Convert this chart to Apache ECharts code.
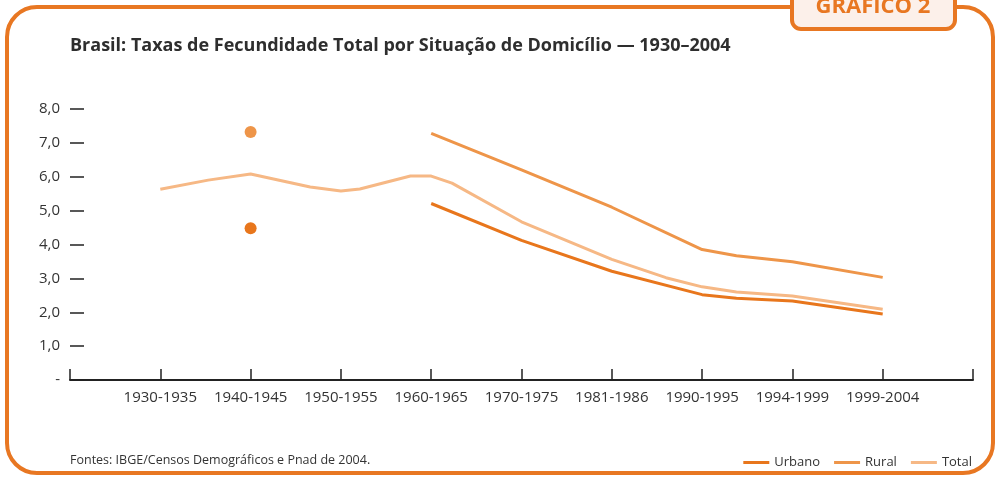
<!DOCTYPE html>
<html>
<head>
<meta charset="utf-8">
<script src="https://cdn.jsdelivr.net/npm/echarts@6/dist/echarts.min.js"></script>
<style>
  html, body { margin: 0; padding: 0; background: #fff; }
  #chart { width: 997px; height: 477px; }
</style>
</head>
<body>
<div id="chart"></div>
<script>
// rótulos das categorias (posições 1..9 no eixo x)
const categories = ['1930-1935', '1940-1945', '1950-1955', '1960-1965', '1970-1975',
  '1981-1986', '1990-1995', '1994-1999', '1999-2004']

// [posição x, taxa]
const urbano = [[4, 5.21], [5, 4.12], [6, 3.21], [7, 2.52], [7.38, 2.41], [8, 2.33], [9, 1.95]]
const rural = [[4, 7.28], [5, 6.2], [6, 5.1], [7, 3.85], [7.38, 3.67], [8, 3.49], [9, 3.03]]
const total = [[1, 5.63], [1.53, 5.9], [2, 6.08], [2.66, 5.7], [3, 5.58], [3.21, 5.64],
  [3.77, 6.02], [4, 6.02], [4.23, 5.81], [5, 4.67], [6, 3.56], [6.6, 3.02], [7, 2.75],
  [7.38, 2.6], [8, 2.48], [9, 2.09]]

// pontos isolados de 1940-1945
const urbanoPonto = [[2, 4.48]]
const ruralPonto = [[2, 7.32]]

const cores = {
  urbano: '#E8761C',
  rural: '#EE9549',
  total: '#F6B885',
  moldura: '#E87722'
}

const chart = echarts.init(document.getElementById('chart'))
const fonte = '"Open Sans", sans-serif'

const option = {
  animation: false,
  textStyle: { fontFamily: fonte },
  title: {
    text: 'Brasil: Taxas de Fecundidade Total por Situação de Domicílio — 1930–2004',
    left: 65,
    top: 32,
    textStyle: { fontSize: 18, fontWeight: 'bold', color: '#2e2e2e', fontFamily: fonte }
  },
  legend: {
    data: ['Urbano', 'Rural', 'Total'],
    right: 20,
    top: 451,
    icon: 'rect',
    itemWidth: 26,
    itemHeight: 3,
    itemGap: 14,
    textStyle: { fontSize: 13, color: '#333', fontFamily: fonte }
  },
  grid: { left: 70, right: 24, top: 109, bottom: 97 },
  xAxis: {
    type: 'value',
    min: 0,
    max: 10,
    interval: 1,
    splitLine: { show: false },
    axisLine: { lineStyle: { color: '#222', width: 2 } },
    axisTick: { inside: true, length: 11, lineStyle: { color: '#222', width: 1.5 } },
    axisLabel: {
      margin: 10,
      fontSize: 15,
      color: '#333',
      formatter: v => categories[v - 1] || ''
    }
  },
  yAxis: {
    type: 'value',
    min: 0,
    max: 8,
    interval: 1,
    splitLine: { show: false },
    axisLine: { show: false },
    axisTick: { show: true, inside: true, length: 14, lineStyle: { color: '#222', width: 1.5 } },
    axisLabel: {
      margin: 10,
      fontSize: 15,
      color: '#333',
      formatter: v => v === 0 ? '-' : v.toFixed(1).replace('.', ',')
    }
  },
  series: [
    {
      name: 'Urbano', type: 'line', data: urbano, showSymbol: false,
      lineStyle: { color: cores.urbano, width: 3 }, itemStyle: { color: cores.urbano }, z: 4
    },
    {
      name: 'Rural', type: 'line', data: rural, showSymbol: false,
      lineStyle: { color: cores.rural, width: 3 }, itemStyle: { color: cores.rural }, z: 3
    },
    {
      name: 'Total', type: 'line', data: total, showSymbol: false,
      lineStyle: { color: cores.total, width: 3 }, itemStyle: { color: cores.total }, z: 2
    },
    {
      name: 'Urbano', type: 'scatter', data: urbanoPonto, symbolSize: 12,
      itemStyle: { color: cores.urbano, opacity: 1 }
    },
    {
      name: 'Rural', type: 'scatter', data: ruralPonto, symbolSize: 12,
      itemStyle: { color: cores.rural, opacity: 1 }
    }
  ],
  graphic: [
    // moldura
    {
      type: 'rect', z: 0, silent: true,
      shape: { x: 7, y: 7, width: 986, height: 466, r: 30 },
      style: { fill: 'none', stroke: cores.moldura, lineWidth: 4 }
    },
    // aba "GRÁFICO 2"
    {
      type: 'rect', z: 1, silent: true,
      shape: { x: 792, y: -20, width: 163, height: 49, r: [0, 0, 9, 9] },
      style: { fill: '#FCF0EA', stroke: cores.moldura, lineWidth: 4 }
    },
    {
      type: 'text', z: 2, silent: true, x: 873, y: -4,
      style: {
        text: 'GRÁFICO 2', align: 'center', verticalAlign: 'top',
        fontSize: 22, fontWeight: 'bold', fill: cores.moldura, fontFamily: fonte
      }
    },
    // fonte
    {
      type: 'text', silent: true, x: 70, y: 460,
      style: {
        text: 'Fontes: IBGE/Censos Demográficos e Pnad de 2004.',
        verticalAlign: 'middle', fontSize: 12.5, fill: '#333', fontFamily: fonte
      }
    }
  ]
}

chart.setOption(option)
</script>
</body>
</html>
